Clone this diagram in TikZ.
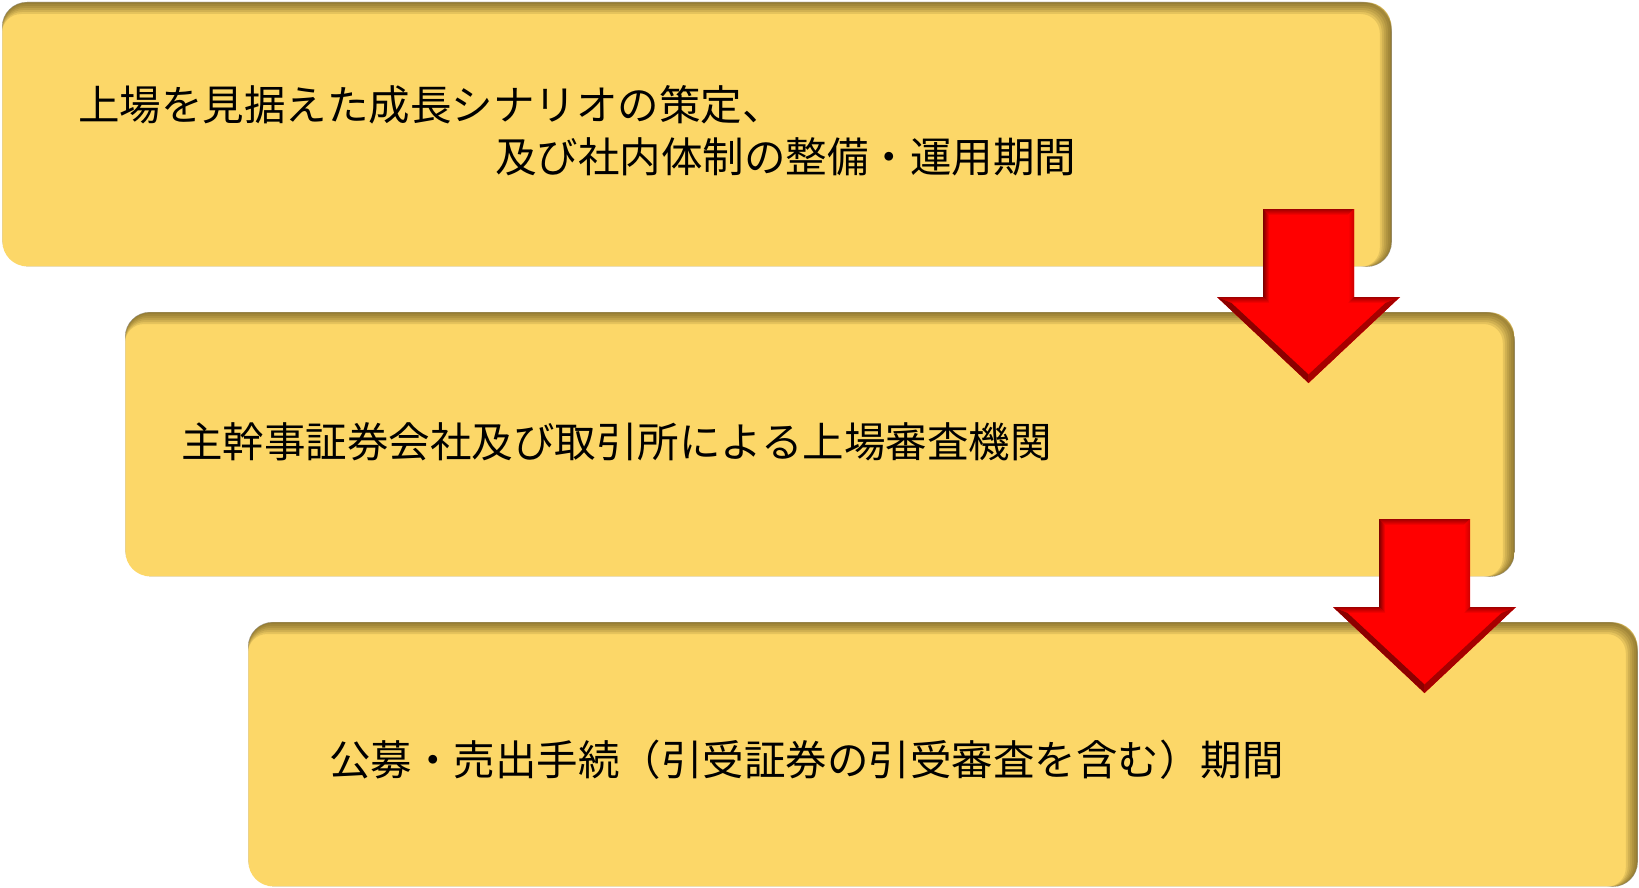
\documentclass[tikz,border=0pt]{standalone}
\usepackage{fontspec}
\newfontfamily\jp{Noto Sans CJK JP}
\usetikzlibrary{calc}
\definecolor{boxyellow}{RGB}{252,215,104}
\definecolor{edgebrown}{RGB}{70,55,10}
\definecolor{arrred}{RGB}{255,0,0}
\definecolor{arrdark}{RGB}{160,0,0}
\definecolor{arrdeep}{RGB}{125,0,0}
\definecolor{arrlight}{RGB}{255,105,105}
\tikzset{
  panel/.style={fill=boxyellow, draw=none, rounded corners=12.5pt, inner sep=0pt,
    anchor=north west, minimum width=694.5pt, minimum height=132pt},
  paneltext/.style={font=\jp\fontsize{20.75}{24}\selectfont, inner sep=0pt,
    anchor=base west, text=black},
}
\newcommand\innershade[1]{%
  \begin{scope}
    \clip[rounded corners=12.5pt] (#1.north west) rectangle (#1.south east);
    \foreach \i in {1,...,6}{
      \draw[edgebrown, draw opacity=0.12, line width=\i pt, rounded corners=12.5pt]
        ($(#1.north west)+(-\i,\i)$) rectangle ($(#1.south east)+(-\i,\i)$);
    }
  \end{scope}}
\newcommand\blockarrow[3]{%
  \begin{scope}[shift={(#2,#3)}]
    \coordinate (#1) at (45.5,0);
    \coordinate (#1tip) at (45.5,174);
    \fill[arrred] (0,0) -- (91,0) -- (91,88) -- (137,88) -- (45.5,174) -- (-46,88) -- (0,88) -- cycle;
    \shade[top color=arrdark, bottom color=arrred] (0,0) -- (91,0) -- (85,6) -- (6,6) -- cycle;
    \shade[left color=arrdeep, right color=arrred] (0,0) -- (6,6) -- (6,94) -- (0,88) -- cycle;
    \shade[left color=arrred, middle color=arrlight, right color=arrred!80!black] (91,0) -- (91,88) -- (85,94) -- (85,6) -- cycle;
    \shade[top color=arrdark, bottom color=arrred] (91,88) -- (137,88) -- (122.5,94) -- (85,94) -- cycle;
    \shade[top color=arrdark, bottom color=arrred] (-46,88) -- (0,88) -- (6,94) -- (-31.5,94) -- cycle;
    \fill[arrred!65!black] (137,88) -- (45.5,174) -- (45.5,165.5) -- (122.5,94) -- cycle;
    \fill[arrred!55!black] (-46,88) -- (-31.5,94) -- (45.5,165.5) -- (45.5,174) -- cycle;
  \end{scope}}
\begin{document}
\begin{tikzpicture}[x=0.5pt, y=-0.5pt]
  \useasboundingbox (0,0) rectangle (1639,888);
  \fill[white] (0,0) rectangle (1639,888);
  % panels
  \node[panel] (b1) at (2,2) {};
  \innershade{b1}
  \node[panel] (b2) at (125,312) {};
  \innershade{b2}
  \node[panel] (b3) at (248,622) {};
  \innershade{b3}
  % texts
  \node[paneltext] (t1a) at (78,120) {上場を見据えた成長シナリオの策定、};
  \node[paneltext] (t1b) at (495,173) {及び社内体制の整備・運用期間};
  \node[paneltext] (t2) at (181,457) {主幹事証券会社及び取引所による上場審査機関};
  \node[paneltext] (t3) at (329,775) {公募・売出手続（引受証券の引受審査を含む）期間};
  % arrows
  \blockarrow{a1}{1263}{209}
  \blockarrow{a2}{1379}{519}
\end{tikzpicture}
\end{document}
